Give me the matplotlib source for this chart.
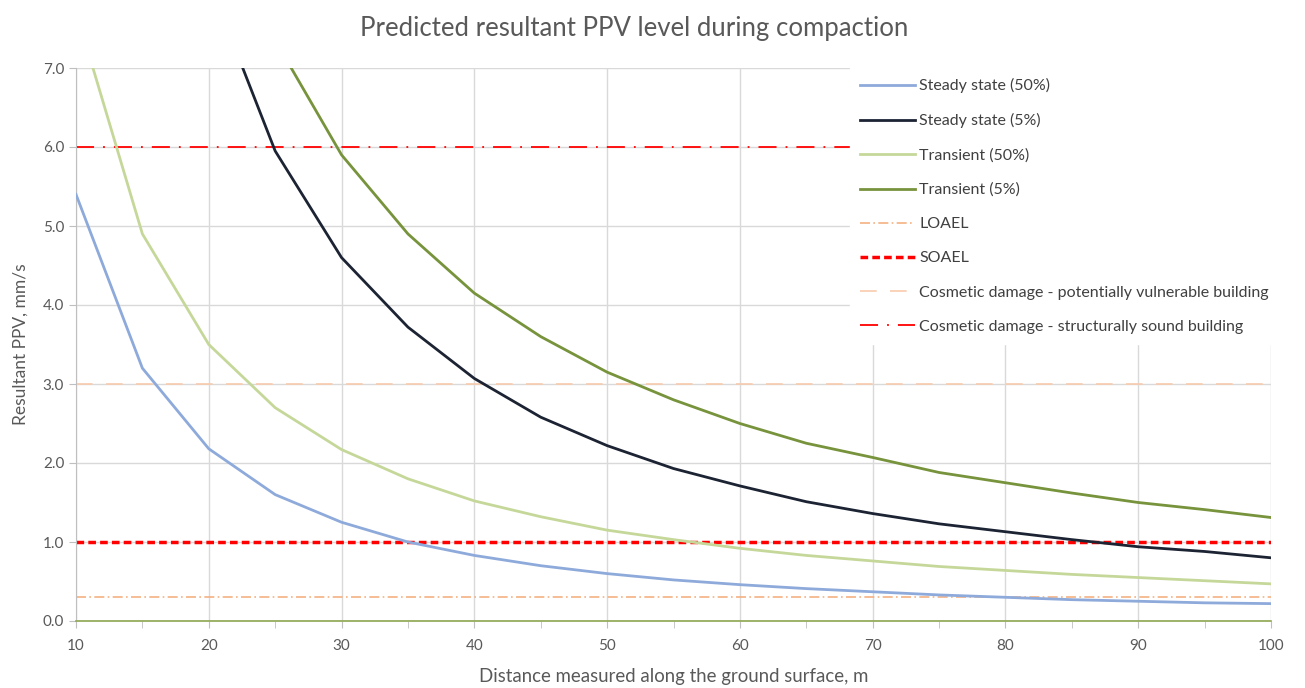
import matplotlib
matplotlib.use("Agg")
import matplotlib.pyplot as plt
from matplotlib.ticker import MultipleLocator, FormatStrFormatter

plt.rcParams['font.family'] = ['Lato', 'DejaVu Sans']

distance = [10, 15, 20, 25, 30, 35, 40, 45, 50, 55, 60, 65, 70, 75, 80, 85, 90, 95, 100]
steady_50 = [5.4, 3.2, 2.18, 1.6, 1.25, 1.0, 0.83, 0.7, 0.6, 0.52, 0.46, 0.41, 0.37, 0.33, 0.30, 0.27, 0.25, 0.23, 0.22]
steady_5 = [21.5, 12.2, 8.1, 5.95, 4.6, 3.72, 3.07, 2.58, 2.22, 1.93, 1.71, 1.51, 1.36, 1.23, 1.13, 1.03, 0.94, 0.88, 0.80]
transient_50 = [7.72, 4.9, 3.5, 2.7, 2.17, 1.8, 1.52, 1.32, 1.15, 1.03, 0.92, 0.83, 0.76, 0.69, 0.64, 0.59, 0.55, 0.51, 0.47]
transient_5 = [22.1, 13.5, 9.6, 7.35, 5.9, 4.9, 4.15, 3.6, 3.15, 2.8, 2.5, 2.25, 2.07, 1.88, 1.75, 1.62, 1.5, 1.41, 1.31]

loael = 0.3
soael = 1.0
cosmetic_vulnerable = 3.0
cosmetic_sound = 6.0

fig = plt.figure(figsize=(13.05, 6.88), dpi=100)
ax = fig.add_axes([76/1305, 1-621/688, (1271-76)/1305, (621-68)/688])

ax.plot(distance, steady_50, color='#8eaadb', lw=2, label='Steady state (50%)', zorder=3)
ax.plot(distance, steady_5, color='#1c2333', lw=2, label='Steady state (5%)', zorder=3)
ax.plot(distance, transient_50, color='#c5d89a', lw=2, label='Transient (50%)', zorder=3)
ax.plot(distance, transient_5, color='#77933c', lw=2, label='Transient (5%)', zorder=3)

xs = [distance[0], distance[-1]]
ax.plot(xs, [loael]*2, color='#f4b183', lw=1.2, ls=(0, (6, 2, 1, 2)), label='LOAEL', zorder=2)
ax.plot(xs, [soael]*2, color='#ff0000', lw=2.5, ls=(0, (2.2, 1.2)), label='SOAEL', zorder=2)
ax.plot(xs, [cosmetic_vulnerable]*2, color='#f8cbad', lw=1.2, ls=(0, (10, 8)),
        label='Cosmetic damage - potentially vulnerable building', zorder=2)
ax.plot(xs, [cosmetic_sound]*2, color='#ff0000', lw=1.3, ls=(0, (10, 5, 1, 5)),
        label='Cosmetic damage - structurally sound building', zorder=2)

ax.set_xlim(10, 100)
ax.set_ylim(0, 7)
ax.xaxis.set_major_locator(MultipleLocator(10))
ax.xaxis.set_minor_locator(MultipleLocator(5))
ax.yaxis.set_major_locator(MultipleLocator(1))
ax.yaxis.set_major_formatter(FormatStrFormatter('%.1f'))
ax.grid(True, which='major', color='#d9d9d9', lw=1, zorder=0)
ax.set_axisbelow(True)

for s in ['top', 'right']:
    ax.spines[s].set_visible(False)
ax.spines['left'].set_color('#bfbfbf')
ax.spines['bottom'].set_color('#8fa650')
ax.spines['bottom'].set_linewidth(1.2)
ax.tick_params(axis='x', which='both', direction='out', length=5, color='#bfbfbf',
               labelsize=11, labelcolor='#595959', pad=8)
ax.tick_params(axis='y', which='major', direction='out', length=5, color='#bfbfbf',
               labelsize=11, labelcolor='#595959')

ax.set_xlabel('Distance measured along the ground surface, m', fontsize=13.4, color='#595959', labelpad=11)
ax.set_ylabel('Resultant PPV, mm/s', fontsize=12.5, color='#595959', labelpad=10)
fig.text(0.486, 0.959, 'Predicted resultant PPV level during compaction', ha='center', va='center',
         fontsize=18.5, color='#595959')

leg = ax.legend(loc='upper left', bbox_to_anchor=(0.6477, 0.5, 0.3523, 0.5), mode='expand',
                borderaxespad=0, frameon=True, fontsize=11.5, labelspacing=1.25,
                handlelength=3.4, handletextpad=0.3, borderpad=0.65)
leg.get_frame().set_facecolor('white')
leg.get_frame().set_edgecolor('white')
leg.get_frame().set_alpha(1)
leg.get_frame().set_boxstyle('square', pad=0)
leg.set_zorder(5)
for t in leg.get_texts():
    t.set_color('#404040')

fig.savefig('out.png', dpi=100, facecolor='white')
